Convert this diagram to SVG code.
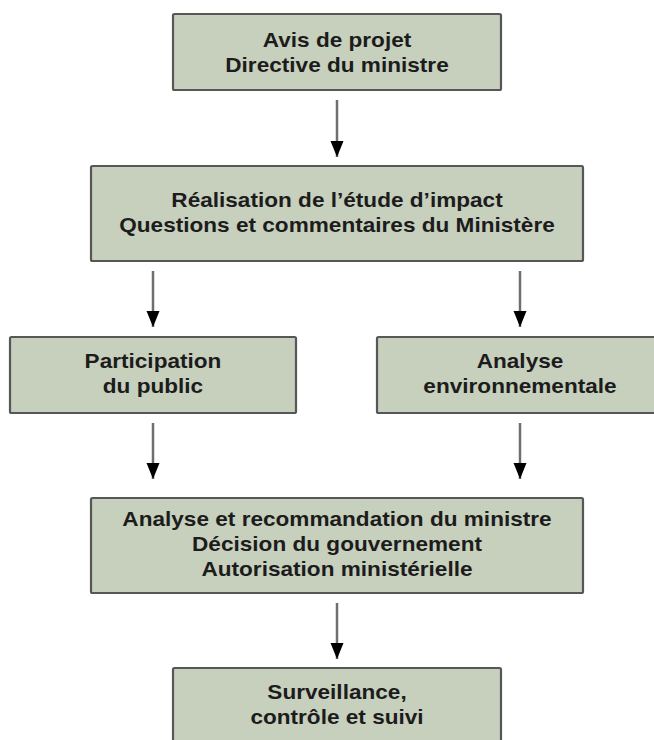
<svg xmlns="http://www.w3.org/2000/svg" width="654" height="740" viewBox="0 0 654 740">
<defs>
<style>
.box{fill:#c7cfbd;stroke:#575757;stroke-width:2.2}
.t{font-family:"Liberation Sans",Arial,sans-serif;font-weight:bold;font-size:20px;fill:#1c1c1c;text-anchor:middle}
.c{stroke:#6f6f6f;stroke-width:2.5;fill:none;marker-end:url(#ah)}
</style>
<marker id="ah" markerUnits="userSpaceOnUse" markerWidth="17" markerHeight="14" refX="16" refY="6.5" orient="auto">
<path d="M0,0 L16,6.5 L0,13 Z" fill="#000"/>
</marker>
</defs>
<rect width="654" height="740" fill="#fff"/>
<g id="connectors">
<line class="c" x1="337" y1="100" x2="337" y2="157"/>
<line class="c" x1="153" y1="271" x2="153" y2="327"/>
<line class="c" x1="520" y1="271" x2="520" y2="327"/>
<line class="c" x1="153" y1="423" x2="153" y2="479"/>
<line class="c" x1="520" y1="423" x2="520" y2="479"/>
<line class="c" x1="337" y1="603" x2="337" y2="659"/>
</g>
<g id="n1">
<rect class="box" x="173" y="14" width="328" height="76" rx="1.5"/>
<g transform="translate(337 0) scale(1.13 1)">
<text class="t" x="0" y="47">Avis de projet</text>
<text class="t" x="0" y="72">Directive du ministre</text>
</g>
</g>
<g id="n2">
<rect class="box" x="91" y="166" width="492" height="95" rx="1.5"/>
<g transform="translate(337 0) scale(1.13 1)">
<text class="t" x="0" y="207">Réalisation de l’étude d’impact</text>
<text class="t" x="0" y="232">Questions et commentaires du Ministère</text>
</g>
</g>
<g id="n3">
<rect class="box" x="10" y="337" width="286" height="76" rx="1.5"/>
<g transform="translate(153 0) scale(1.13 1)">
<text class="t" x="0" y="368">Participation</text>
<text class="t" x="0" y="393">du public</text>
</g>
</g>
<g id="n4">
<rect class="box" x="377" y="337" width="286" height="76" rx="1.5"/>
<g transform="translate(520 0) scale(1.13 1)">
<text class="t" x="0" y="368">Analyse</text>
<text class="t" x="0" y="393">environnementale</text>
</g>
</g>
<g id="n5">
<rect class="box" x="91" y="498" width="492" height="95" rx="1.5"/>
<g transform="translate(337 0) scale(1.13 1)">
<text class="t" x="0" y="526">Analyse et recommandation du ministre</text>
<text class="t" x="0" y="551">Décision du gouvernement</text>
<text class="t" x="0" y="576">Autorisation ministérielle</text>
</g>
</g>
<g id="n6">
<rect class="box" x="173" y="668" width="328" height="90" rx="1.5"/>
<g transform="translate(337 0) scale(1.13 1)">
<text class="t" x="0" y="699">Surveillance,</text>
<text class="t" x="0" y="724">contrôle et suivi</text>
</g>
</g>
</svg>
